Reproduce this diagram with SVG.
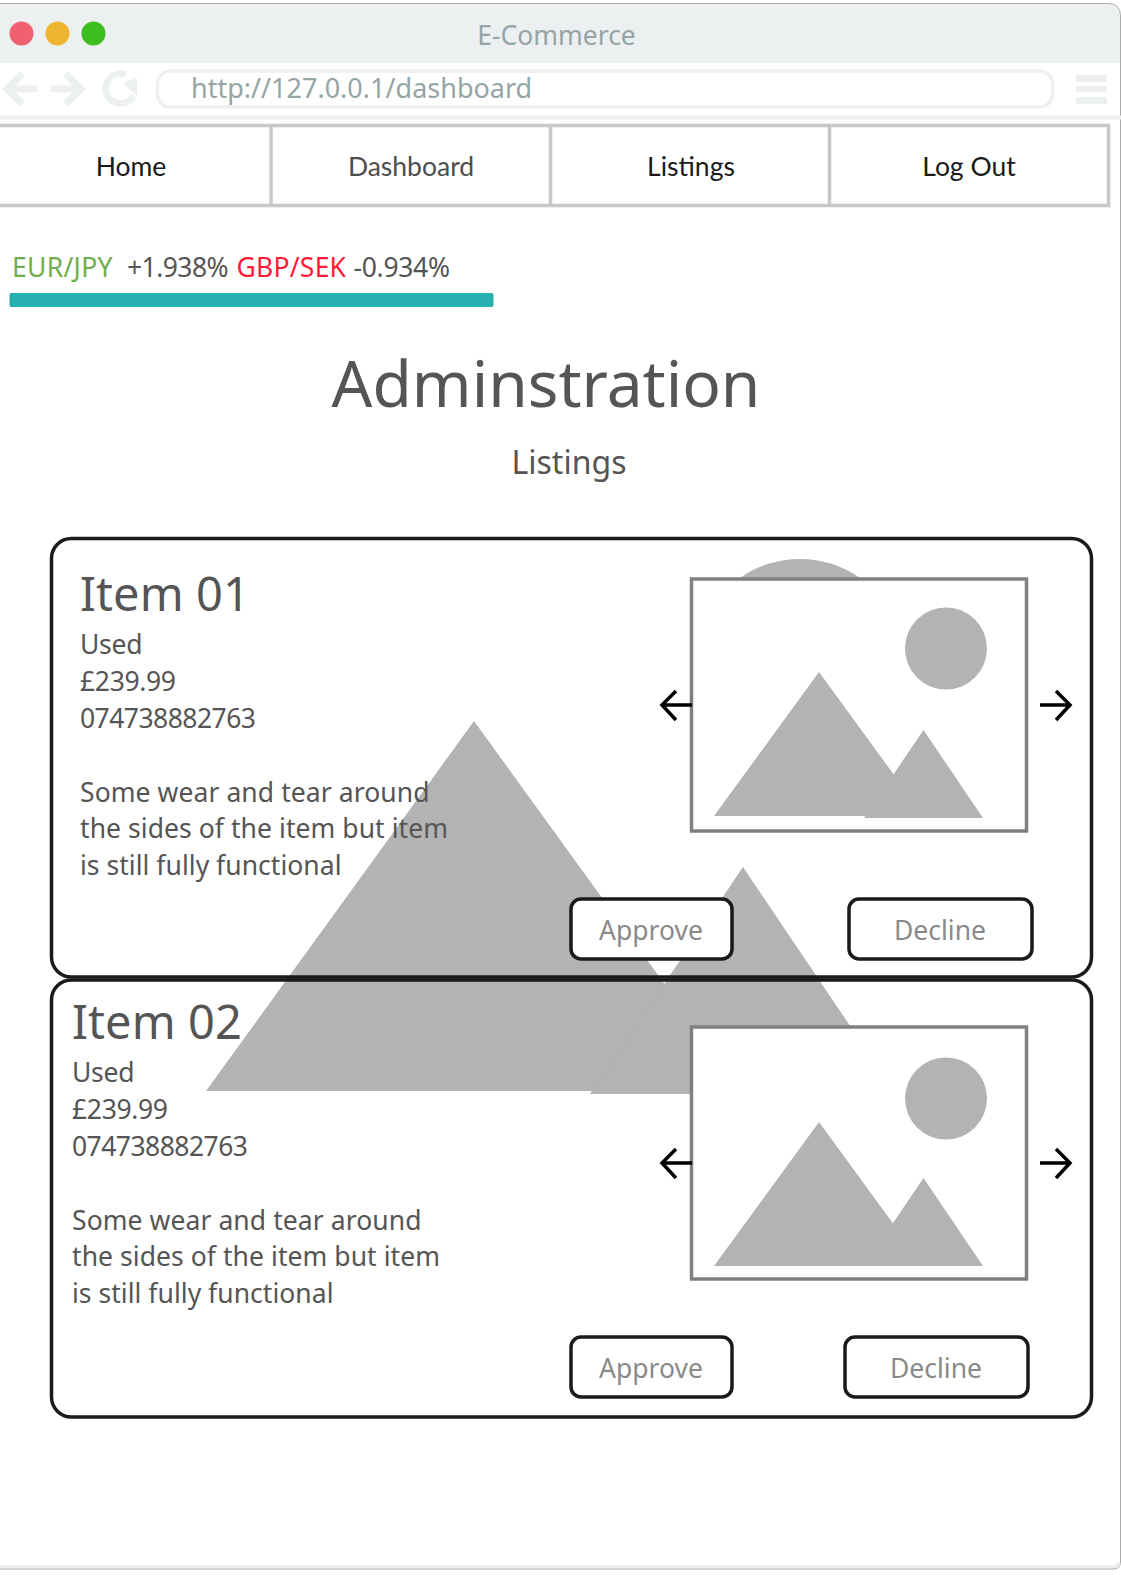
<svg xmlns="http://www.w3.org/2000/svg" width="1121" height="1575" viewBox="0 0 1121 1575">
<style>
text{font-family:"Noto Sans","Open Sans",sans-serif;fill:#555}
.nav{font-family:Lato,"Noto Sans",sans-serif;font-size:26.500px;text-anchor:middle;fill:#1a1a1a}
.b{font-size:26.500px}
.card{fill:#fff}
.edge{fill:none;stroke:#1a1a1a;stroke-width:3.500}
.btn{fill:#fff;stroke:#1a1a1a;stroke-width:3.500}
.bt{font-size:26.500px;fill:#8a8a8a;text-anchor:middle}
.img{fill:#fff;stroke:#808080;stroke-width:3.500}
.g{fill:#b3b3b3}
.ar{fill:none;stroke:#000;stroke-width:3.500}
.chrome{fill:none;stroke:#ecf0f1;stroke-width:7}
</style>
<rect width="1121" height="1575" fill="#fff"/>
<g id="browser">
<path d="M0 4H1108Q1120 4 1120 16V63H0Z" fill="#ecf0f1"/>
<path d="M0 3.500H1108Q1120.500 3.500 1120.500 16V1562Q1120.500 1569 1113 1569H0" fill="none" stroke="#aaa" stroke-width="1"/>
<circle cx="21.500" cy="33.500" r="12" fill="#f0606f"/>
<circle cx="57.500" cy="33.500" r="12" fill="#eeb52e"/>
<circle cx="93.500" cy="33.500" r="12" fill="#3cbf1e"/>
<text x="556.500" y="44.500" font-size="26.500" text-anchor="middle" style="fill:#95a5a6">E-Commerce</text>
<path class="chrome" d="M37 89H7M22 74L7 89L22 104M51 89H81M66 74L81 89L66 104"/>
<path d="M126 74.500A15 15 0 1 0 133.500 96" fill="none" stroke="#ecf0f1" stroke-width="6.500"/>
<path d="M137 78V96L123 83Z" fill="#ecf0f1"/>
<rect x="157.500" y="71" width="895" height="36" rx="13" fill="#fff" stroke="#ecf0f1" stroke-width="3.500"/>
<text x="191" y="98" font-size="27" style="fill:#95a5a6">http://127.0.0.1/dashboard</text>
<path d="M1076 75h31v7h-31zM1076 86h31v6h-31zM1076 97h31v7h-31z" fill="#ecf0f1"/>
<rect x="0" y="115.500" width="1121" height="4" fill="#ecf0f1"/>
<path d="M0 1566.500H1113Q1118 1566.500 1119 1563" fill="none" stroke="#ecf0f1" stroke-width="3"/>
</g>
<g id="nav">
<path d="M0 125.500H1108.500V205.500H0M271 125.500V205.500M550.500 125.500V205.500M829.500 125.500V205.500" fill="none" stroke="#c8c8c8" stroke-width="3.500"/>
<text class="nav" x="131" y="176">Home</text>
<text class="nav" x="411" y="176" style="fill:#4d4d4d">Dashboard</text>
<text class="nav" x="691" y="176">Listings</text>
<text class="nav" x="969" y="176">Log Out</text>
</g>
<g id="ticker">
<text x="12" y="276.700" class="b" textLength="100.500" style="fill:#6fae4c">EUR/JPY</text>
<text x="127" y="276.700" class="b" textLength="101.500">+1.938%</text>
<text x="236.500" y="276.700" class="b" textLength="109.500" style="fill:#ff1a35">GBP/SEK</text>
<text x="353.500" y="276.700" class="b" textLength="96.500">-0.934%</text>
<rect x="9.500" y="293" width="484" height="14" rx="2" fill="#26b0b0"/>
</g>
<g id="title">
<text x="546" y="407" font-size="64" text-anchor="middle">Adminstration</text>
<text x="569" y="473.700" font-size="32" text-anchor="middle">Listings</text>
</g>
<g id="card-backgrounds">
<rect class="card" x="51.500" y="538.500" width="1040" height="438.500" rx="20"/>
<rect class="card" x="51.500" y="980" width="1040" height="437" rx="20"/>
</g>
<g id="hero">
<path class="g" d="M740 578A104 104 0 0 1 860 578Z"/>
<path class="g" d="M474 721L206 1091H742Z"/>
<path class="g" d="M743 867L590 1094H896Z"/>
</g>
<g id="card1">
<rect class="edge" x="51.500" y="538.500" width="1040" height="438.500" rx="20"/>
<text x="80" y="610.500" font-size="47" textLength="170">Item 01</text>
<text x="80" y="653.700" class="b" textLength="62.500">Used</text>
<text x="80" y="690.700" class="b" textLength="96">£239.99</text>
<text x="80" y="727.700" class="b" textLength="176">074738882763</text>
<text x="80" y="801.700" class="b" textLength="349.500">Some wear and tear around</text>
<text x="80" y="837.700" class="b" textLength="368">the sides of the item but item</text>
<text x="80" y="874.700" class="b" textLength="261.500">is still fully functional</text>
<rect class="btn" x="571" y="899" width="161" height="60" rx="10"/>
<text class="bt" x="651" y="939.700">Approve</text>
<rect class="btn" x="849" y="899" width="183" height="60" rx="10"/>
<text class="bt" x="940" y="939.700">Decline</text>
<rect class="img" x="691.500" y="579" width="335" height="252"/>
<circle class="g" cx="946" cy="648.500" r="41"/>
<path class="g" d="M819 672L714 816H924Z"/>
<path class="g" d="M923.500 730L864 818H983Z"/>
<path class="ar" d="M692 705H662M676 691L662 705L676 720"/>
<path class="ar" d="M1040 705H1070M1056 691L1070 705L1056 720"/>
</g>
<g id="card2">
<rect class="edge" x="51.500" y="980" width="1040" height="437" rx="20"/>
<text x="72" y="1038.500" font-size="47" textLength="170">Item 02</text>
<text x="72" y="1081.700" class="b" textLength="62.500">Used</text>
<text x="72" y="1118.700" class="b" textLength="96">£239.99</text>
<text x="72" y="1155.700" class="b" textLength="176">074738882763</text>
<text x="72" y="1229.700" class="b" textLength="349.500">Some wear and tear around</text>
<text x="72" y="1265.700" class="b" textLength="368">the sides of the item but item</text>
<text x="72" y="1302.700" class="b" textLength="261.500">is still fully functional</text>
<rect class="btn" x="571" y="1337" width="161" height="60" rx="10"/>
<text class="bt" x="651" y="1377.700">Approve</text>
<rect class="btn" x="845" y="1337" width="183" height="60" rx="10"/>
<text class="bt" x="936" y="1377.700">Decline</text>
<rect class="img" x="691.500" y="1027" width="335" height="252"/>
<circle class="g" cx="946" cy="1098.500" r="41"/>
<path class="g" d="M819 1122L714 1266H924Z"/>
<path class="g" d="M923.500 1178L864 1266H983Z"/>
<path class="ar" d="M692 1163H662M676 1149L662 1163L676 1178"/>
<path class="ar" d="M1040 1163H1070M1056 1149L1070 1163L1056 1178"/>
</g>
</svg>
